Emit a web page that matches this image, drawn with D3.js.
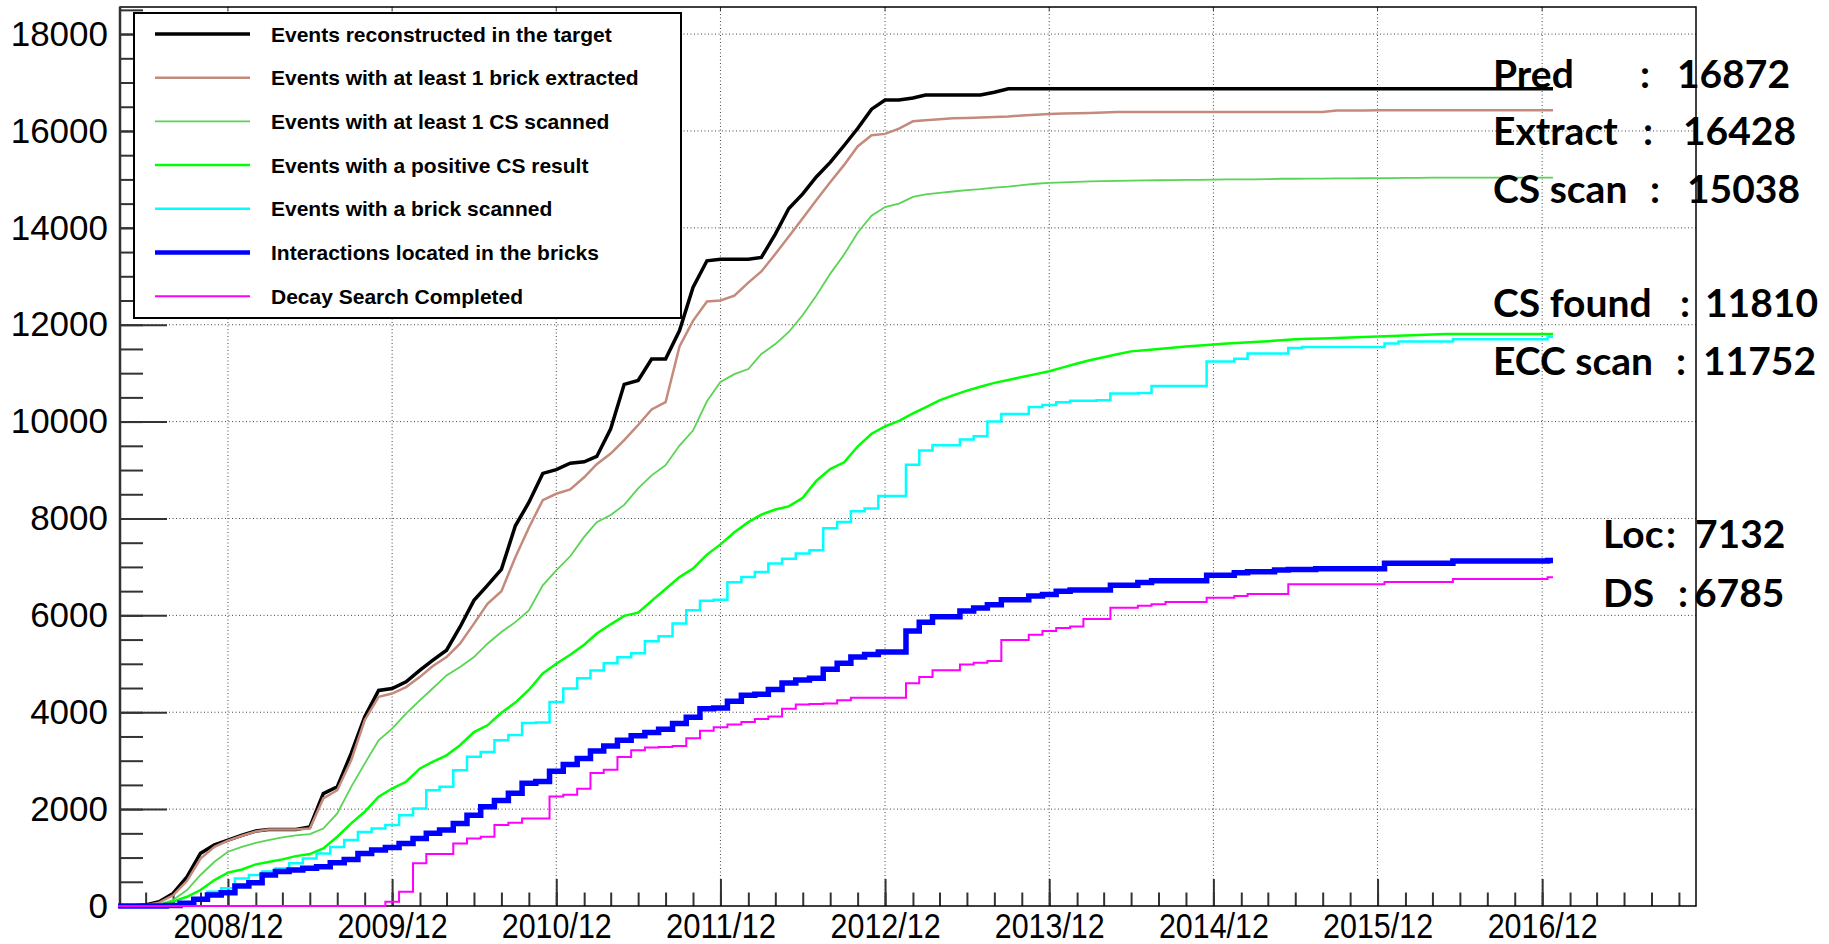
<!DOCTYPE html>
<html>
<head>
<meta charset="utf-8">
<script src="https://cdn.jsdelivr.net/npm/d3@7"></script>
<style>
  html, body { margin: 0; padding: 0; background: #fff; }
  svg { display: block; }
</style>
</head>
<body>
<svg id="chart" width="1829" height="944"></svg>
<script>
// one sample on the 1st of every month, Apr 2008 .. Dec 2016, plus the last day drawn
const months = d3.timeMonth.range(new Date(2008, 3, 1), new Date(2017, 0, 1))
  .concat([new Date(2016, 11, 25)]);

const xTickLabels = ["2008/12", "2009/12", "2010/12", "2011/12", "2012/12", "2013/12", "2014/12", "2015/12", "2016/12"];
const yTickLabels = [0, 2000, 4000, 6000, 8000, 10000, 12000, 14000, 16000, 18000];

const seriesNames = [
  "Events reconstructed in the target",
  "Events with at least 1 brick extracted",
  "Events with at least 1 CS scanned",
  "Events with a positive CS result",
  "Events with a brick scanned",
  "Interactions located in the bricks",
  "Decay Search Completed"
];

// rows: 2008 (Apr-Dec), then 2009 .. 2016 (Jan-Dec), then the end point
const predicted = [
  0, 0, 20, 90, 260, 600, 1090, 1260, 1360,
  1460, 1550, 1580, 1580, 1580, 1630, 2320, 2460, 3150, 3900, 4450, 4490,
  4630, 4870, 5070, 5280, 5760, 6310, 6620, 6950, 7850, 8330, 8930, 9010,
  9140, 9170, 9280, 9850, 10770, 10850, 11290, 11290, 11880, 12770, 13320, 13350,
  13350, 13350, 13390, 13870, 14400, 14700, 15050, 15350, 15700, 16050, 16450, 16640,
  16640, 16680, 16744, 16744, 16744, 16744, 16744, 16800, 16872, 16872, 16872, 16872,
  16872, 16872, 16872, 16872, 16872, 16872, 16872, 16872, 16872, 16872, 16872, 16872,
  16872, 16872, 16872, 16872, 16872, 16872, 16872, 16872, 16872, 16872, 16872, 16872,
  16872, 16872, 16872, 16872, 16872, 16872, 16872, 16872, 16872, 16872, 16872, 16872,
  16872
];
const extracted = [
  0, 0, 15, 70, 220, 520, 980, 1220, 1350,
  1450, 1540, 1580, 1580, 1580, 1600, 2220, 2390, 3010, 3835, 4320, 4385,
  4520, 4730, 4950, 5140, 5415, 5830, 6240, 6500, 7200, 7810, 8380, 8510,
  8600, 8850, 9120, 9340, 9620, 9930, 10250, 10400, 11550, 12080, 12480, 12500,
  12600, 12870, 13100, 13460, 13820, 14200, 14570, 14940, 15300, 15680, 15910, 15940,
  16050, 16200, 16220, 16240, 16260, 16270, 16280, 16290, 16300, 16320, 16335, 16348,
  16360, 16365, 16370, 16380, 16390, 16394, 16394, 16394, 16394, 16394, 16394, 16394,
  16394, 16394, 16394, 16394, 16394, 16394, 16394, 16394, 16422, 16422, 16422, 16428,
  16428, 16428, 16428, 16428, 16428, 16428, 16428, 16428, 16428, 16428, 16428, 16428,
  16428
];
const csScanned = [
  0, 0, 0, 30, 124, 330, 640, 914, 1120,
  1220, 1305, 1360, 1416, 1457, 1485, 1600, 1910, 2460, 2940, 3420, 3660,
  3970, 4250, 4490, 4760, 4935, 5140, 5415, 5655, 5860, 6100, 6620, 6930,
  7220, 7620, 7925, 8070, 8280, 8620, 8890, 9100, 9505, 9815, 10420, 10820,
  10980, 11085, 11395, 11600, 11850, 12200, 12600, 13050, 13450, 13900, 14250, 14430,
  14500, 14640, 14690, 14720, 14750, 14780, 14800, 14830, 14850, 14880, 14910, 14930,
  14940, 14950, 14960, 14965, 14970, 14975, 14980, 14983, 14986, 14989, 14992, 14995,
  15000, 15000, 15000, 15005, 15014, 15014, 15016, 15018, 15020, 15022, 15024, 15026,
  15028, 15030, 15032, 15036, 15038, 15038, 15038, 15038, 15038, 15038, 15038, 15038,
  15038
];
const csFound = [
  0, 0, 0, 20, 90, 190, 330, 536, 690,
  755, 860, 907, 962, 1030, 1072, 1190, 1430, 1705, 1945, 2255, 2425,
  2565, 2840, 2975, 3110, 3320, 3590, 3730, 3990, 4200, 4460, 4800, 5000,
  5185, 5395, 5625, 5815, 5990, 6055, 6300, 6545, 6790, 6965, 7255, 7465,
  7715, 7925, 8080, 8185, 8250, 8425, 8775, 9020, 9160, 9485, 9750, 9900,
  10015, 10170, 10295, 10440, 10540, 10640, 10720, 10800, 10860, 10920, 10980, 11040,
  11120, 11200, 11265, 11330, 11390, 11450, 11475, 11500, 11525, 11550, 11570, 11590,
  11610, 11630, 11645, 11660, 11680, 11700, 11708, 11715, 11725, 11735, 11745, 11755,
  11765, 11775, 11788, 11800, 11810, 11810, 11810, 11810, 11810, 11810, 11810, 11810,
  11810
];
const brickScanned = [
  0, 0, 0, 0, 5, 20, 160, 295, 364,
  570, 640, 710, 775, 880, 980, 1085, 1220, 1360, 1530, 1600, 1670,
  1875, 2015, 2390, 2460, 2800, 3080, 3180, 3420, 3530, 3780, 3790, 4210,
  4490, 4700, 4860, 5010, 5135, 5220, 5465, 5570, 5834, 6105, 6300, 6320,
  6685, 6790, 6895, 7070, 7170, 7275, 7345, 7800, 7925, 8150, 8206, 8464,
  8464, 9108, 9402, 9513, 9513, 9632, 9700, 10000, 10156, 10156, 10300, 10341,
  10400, 10433, 10433, 10440, 10580, 10580, 10590, 10736, 10736, 10736, 10736, 11242,
  11242, 11300, 11408, 11408, 11408, 11518, 11540, 11540, 11540, 11540, 11540, 11540,
  11610, 11656, 11656, 11656, 11656, 11702, 11702, 11702, 11702, 11702, 11702, 11702,
  11752
];
const located = [
  0, 0, 0, 0, 10, 55, 140, 225, 275,
  412, 480, 640, 710, 742, 777, 810, 893, 962, 1085, 1155, 1210,
  1290, 1395, 1500, 1567, 1705, 1875, 2050, 2180, 2330, 2535, 2570, 2780,
  2920, 3045, 3200, 3305, 3420, 3515, 3580, 3650, 3770, 3895, 4070, 4090,
  4225, 4350, 4370, 4470, 4605, 4665, 4700, 4885, 5010, 5140, 5190, 5244,
  5244, 5676, 5860, 5971, 5971, 6090, 6150, 6219, 6320, 6320, 6400, 6431,
  6500, 6523, 6523, 6523, 6624, 6624, 6680, 6716, 6716, 6716, 6716, 6826,
  6826, 6880, 6900, 6900, 6937, 6946, 6946, 6964, 6964, 6964, 6964, 6964,
  7075, 7075, 7075, 7075, 7075, 7121, 7121, 7121, 7121, 7121, 7121, 7121,
  7132
];
const decaySearch = [
  0, 0, 0, 0, 0, 0, 0, 0, 0,
  0, 0, 0, 0, 0, 0, 0, 0, 0, 0, 0, 90,
  295, 880, 1072, 1072, 1290, 1395, 1430, 1670, 1720, 1805, 1805, 2258,
  2295, 2420, 2745, 2815, 3075, 3215, 3270, 3285, 3305, 3465, 3620, 3690,
  3745, 3800, 3860, 3910, 4070, 4160, 4170, 4180, 4245, 4300, 4300, 4300,
  4300, 4600, 4729, 4867, 4867, 4986, 5020, 5060, 5492, 5492, 5600, 5676,
  5740, 5768, 5925, 5925, 6155, 6155, 6200, 6230, 6274, 6274, 6274, 6366,
  6366, 6400, 6440, 6440, 6440, 6642, 6642, 6642, 6642, 6642, 6642, 6642,
  6688, 6688, 6688, 6688, 6688, 6753, 6753, 6753, 6753, 6753, 6753, 6753,
  6785
];

const summaryLabels = ["Pred", "Extract", "CS scan", "CS found", "ECC scan", "Loc", "DS"];
const summaryValues = ["16872", "16428", "15038", "11810", "11752", "7132", "6785"];

const allSeries = [predicted, extracted, csScanned, csFound, brickScanned, located, decaySearch];
const colors = ["#000000", "#c48a7c", "#59d454", "#00ff00", "#00ffff", "#0000ff", "#ff00ff"];
const widths = [3.5, 2.5, 1.8, 2.5, 2.5, 5.5, 2];
const stepped = [false, false, false, false, true, true, true];

const svg = d3.select("#chart");
svg.append("rect").attr("width", 1829).attr("height", 944).attr("fill", "#fff");

const plotLeft = 120, plotRight = 1696, plotTop = 7, plotBottom = 906;

const x = d3.scaleTime()
  .domain([new Date(2008, 3, 5), new Date(2017, 10, 8)])
  .range([plotLeft, plotRight]);
const y = d3.scaleLinear()
  .domain([0, d3.max(predicted) * 1.1])
  .range([plotBottom, plotTop]);

const parseTick = d3.timeParse("%Y/%m");
const xTicks = xTickLabels.map(parseTick);
const yMinor = d3.range(0, y.domain()[1], 500);
const xMinor = d3.timeMonth.range(x.domain()[0], x.domain()[1]).filter(d => d.getMonth() % 2 === 1);

// dotted grid
const grid = svg.append("g").attr("stroke", "#444").attr("stroke-width", 1).attr("stroke-dasharray", "1,2.5");
grid.selectAll(".gy").data(yTickLabels.filter(v => v > 0)).join("line")
  .attr("class", "gy")
  .attr("x1", plotLeft).attr("x2", plotRight)
  .attr("y1", d => y(d)).attr("y2", d => y(d));
grid.selectAll(".gx").data(xTicks).join("line")
  .attr("class", "gx")
  .attr("x1", d => x(d)).attr("x2", d => x(d))
  .attr("y1", plotTop).attr("y2", plotBottom);

function styleAxis(g) {
  g.selectAll(".tick line").attr("stroke", "#333").attr("stroke-width", 2);
  g.selectAll("text").attr("fill", "#000")
    .attr("font-family", "'Liberation Sans', Arial, sans-serif")
    .attr("font-size", 35);
}

// y axis: ticks drawn inward
const yAxis = svg.append("g").attr("transform", `translate(${plotLeft},0)`)
  .call(d3.axisLeft(y).tickValues(yTickLabels).tickSize(-47).tickPadding(12).tickFormat(d3.format("d")));
yAxis.select(".domain").remove();
styleAxis(yAxis);
const yAxisMinor = svg.append("g").attr("transform", `translate(${plotLeft},0)`)
  .call(d3.axisLeft(y).tickValues(yMinor).tickSize(-23).tickFormat(""));
yAxisMinor.select(".domain").remove();
styleAxis(yAxisMinor);

// x axis
const xAxis = svg.append("g").attr("transform", `translate(0,${plotBottom})`)
  .call(d3.axisBottom(x).tickValues(xTicks).tickSize(-27).tickPadding(7).tickFormat(d3.timeFormat("%Y/%m")));
xAxis.select(".domain").remove();
styleAxis(xAxis);
xAxis.selectAll("text").attr("textLength", 110).attr("lengthAdjust", "spacingAndGlyphs");
const xAxisMinor = svg.append("g").attr("transform", `translate(0,${plotBottom})`)
  .call(d3.axisBottom(x).tickValues(xMinor).tickSize(-13.5).tickFormat(""));
xAxisMinor.select(".domain").remove();
styleAxis(xAxisMinor);

// small ticks on the top edge
svg.append("g").selectAll("line").data(xTicks).join("line")
  .attr("x1", d => x(d)).attr("x2", d => x(d))
  .attr("y1", plotTop).attr("y2", plotTop + 4)
  .attr("stroke", "#333").attr("stroke-width", 1);

// frame
svg.append("rect")
  .attr("x", plotLeft).attr("y", plotTop)
  .attr("width", plotRight - plotLeft).attr("height", plotBottom - plotTop)
  .attr("fill", "none").attr("stroke", "#000").attr("stroke-width", 1.5);
svg.append("line").attr("x1", plotLeft).attr("x2", plotLeft).attr("y1", plotTop).attr("y2", plotBottom)
  .attr("stroke", "#333").attr("stroke-width", 2.5);

// curves
allSeries.forEach((values, i) => {
  const line = d3.line()
    .x((d, j) => x(months[j]))
    .y(d => y(d))
    .curve(stepped[i] ? d3.curveStep : d3.curveLinear);
  svg.append("path")
    .datum(values)
    .attr("fill", "none")
    .attr("stroke", colors[i])
    .attr("stroke-width", widths[i])
    .attr("stroke-linejoin", "miter")
    .attr("d", line);
});

// legend
const legend = svg.append("g");
legend.append("rect")
  .attr("x", 134).attr("y", 13).attr("width", 547).attr("height", 305)
  .attr("fill", "#fff").attr("stroke", "#000").attr("stroke-width", 2);
const rows = legend.selectAll(".row").data(seriesNames).join("g")
  .attr("class", "row")
  .attr("transform", (d, i) => `translate(0,${34 + i * 43.7})`);
rows.append("line")
  .attr("x1", 155).attr("x2", 250)
  .attr("stroke", (d, i) => colors[i])
  .attr("stroke-width", (d, i) => Math.min(widths[i], 4.5));
rows.append("text")
  .attr("x", 271).attr("dy", "0.36em")
  .attr("font-family", "'Liberation Sans', Arial, sans-serif")
  .attr("font-weight", "bold").attr("font-size", 21)
  .attr("fill", "#000")
  .text(d => d);

// totals written on the right
const sumY = [88, 145, 203, 317, 375, 548, 607];
const sumLabelX = [1493, 1493, 1493, 1493, 1493, 1603, 1603];
const sumColonX = [1645, 1648, 1655, 1685, 1681, 1671, 1683];
const sumValueX = [1677, 1683, 1687, 1705, 1703, 1695, 1694];
const notes = svg.append("g")
  .attr("font-family", "Lato, 'Open Sans', sans-serif")
  .attr("font-weight", "bold").attr("font-size", 39).attr("fill", "#000");
summaryLabels.forEach((lab, i) => {
  notes.append("text").attr("x", sumLabelX[i]).attr("y", sumY[i]).text(lab);
  notes.append("text").attr("x", sumColonX[i]).attr("y", sumY[i]).attr("text-anchor", "middle").text(":");
  notes.append("text").attr("x", sumValueX[i]).attr("y", sumY[i]).text(summaryValues[i]);
});
</script>
</body>
</html>
